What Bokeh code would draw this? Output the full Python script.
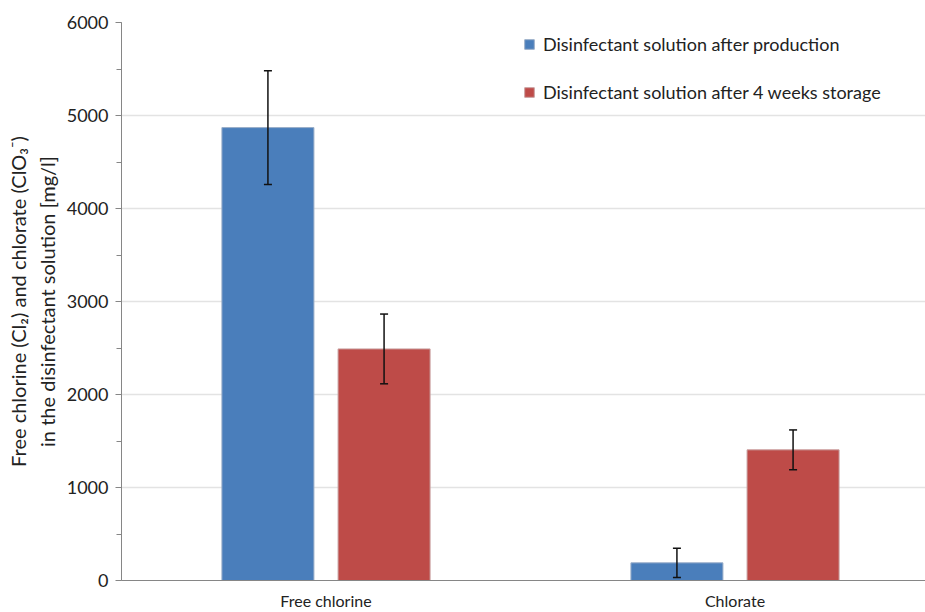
from bokeh.plotting import figure
from bokeh.models import (ColumnDataSource, Range1d, FixedTicker, SingleIntervalTicker,
                          Whisker, TeeHead, Legend, LegendItem)
from bokeh.transform import dodge
from bokeh.embed import file_html
from bokeh.resources import INLINE

categories = ["Free chlorine", "Chlorate"]
series_names = ["Disinfectant solution after production",
                "Disinfectant solution after 4 weeks storage"]
after_production = [4870, 190]
after_production_err = [612, 157]
after_storage = [2490, 1405]
after_storage_err = [375, 214]

FONT = "Lato"
BLUE = "#4A7EBB"
RED = "#BE4B48"

xpos = [i + 0.5 for i in range(len(categories))]
src = ColumnDataSource(dict(
    x=xpos,
    a=after_production, a_lo=[v - e for v, e in zip(after_production, after_production_err)],
    a_hi=[v + e for v, e in zip(after_production, after_production_err)],
    b=after_storage, b_lo=[v - e for v, e in zip(after_storage, after_storage_err)],
    b_hi=[v + e for v, e in zip(after_storage, after_storage_err)],
))

# frame: 121..925 px (804 px), category pitch 409 px
p = figure(width=925, height=612, output_backend="svg", toolbar_location=None,
           x_range=Range1d(0, 804 / 409), y_range=Range1d(0, 6000),
           min_border_left=121, min_border_right=0, min_border_top=22, min_border_bottom=32)
p.outline_line_color = None

off = 0.142
w = 0.225
r1 = p.vbar(x=dodge("x", -off, range=p.x_range), top="a", width=w, source=src,
            fill_color=BLUE, line_color="#9aaec8", line_width=1)
r2 = p.vbar(x=dodge("x", off, range=p.x_range), top="b", width=w, source=src,
            fill_color=RED, line_color="#c9a0a0", line_width=1)

for xs, lo, hi in ((-off, "a_lo", "a_hi"), (off, "b_lo", "b_hi")):
    wh = Whisker(base=dodge("x", xs, range=p.x_range), lower=lo, upper=hi, source=src,
                 line_color="#111111", line_width=1.5, level="overlay",
                 upper_head=TeeHead(size=8, line_color="#111111", line_width=1.5),
                 lower_head=TeeHead(size=8, line_color="#111111", line_width=1.5))
    p.add_layout(wh)

# axes
p.xaxis.ticker = FixedTicker(ticks=xpos)
p.xaxis.major_label_overrides = {x: c for x, c in zip(xpos, categories)}
p.xaxis.major_tick_line_color = None
p.xaxis.minor_tick_line_color = None
p.xaxis.major_tick_out = 0
p.xaxis.major_tick_in = 0
p.xaxis.minor_tick_out = 0
p.xaxis.minor_tick_in = 0
p.xaxis.axis_line_color = "#868686"
p.xaxis.major_label_text_font = FONT
p.xaxis.major_label_text_font_size = "16px"
p.xaxis.major_label_text_color = "#222222"
p.xaxis.major_label_standoff = 10

p.yaxis.ticker = SingleIntervalTicker(interval=1000, num_minor_ticks=2)
p.yaxis.axis_line_color = "#868686"
p.yaxis.major_tick_line_color = "#868686"
p.yaxis.minor_tick_line_color = "#868686"
p.yaxis.major_tick_out = 6
p.yaxis.major_tick_in = 0
p.yaxis.minor_tick_out = 5
p.yaxis.minor_tick_in = 0
p.yaxis.major_label_text_font = FONT
p.yaxis.major_label_text_font_size = "18px"
p.yaxis.major_label_text_color = "#222222"
p.yaxis.major_label_standoff = 7
p.yaxis.axis_label = "Free chlorine (Cl\u2082) and chlorate (ClO\u2083\u207b)\nin the disinfectant solution [mg/l]"
p.yaxis.axis_label_text_font = FONT
p.yaxis.axis_label_text_font_size = "20px"
p.yaxis.axis_label_text_font_style = "normal"
p.yaxis.axis_label_text_color = "#222222"
p.yaxis.axis_label_standoff = 5

p.xgrid.grid_line_color = None
p.ygrid.grid_line_color = "#e3e3e3"
p.ygrid.grid_line_width = 1.5

legend = Legend(items=[LegendItem(label=series_names[0], renderers=[r1]),
                       LegendItem(label=series_names[1], renderers=[r2])],
                location=(402, 477), border_line_color=None, background_fill_alpha=0,
                padding=0, margin=0, spacing=26, glyph_width=12, glyph_height=12,
                label_height=20, label_standoff=8,
                label_text_font=FONT, label_text_font_size="18px", label_text_color="#222222")
p.add_layout(legend)

open("out.html", "w").write(file_html(p, INLINE))
